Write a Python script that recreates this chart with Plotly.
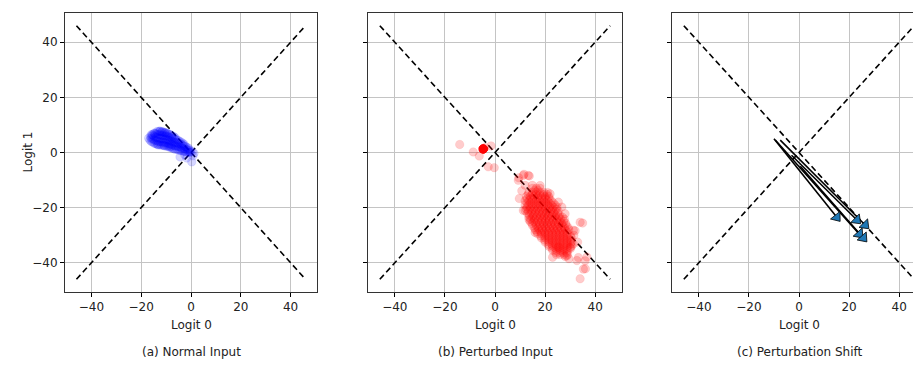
import math
import plotly.graph_objects as go

# ---------------- data ----------------
tick_vals = [-40, -20, 0, 20, 40]
tick_text = ["\u221240", "\u221220", "0", "20", "40"]

# decision boundaries (dashed diagonals)
diag_x = [-46, 46]
diag_up_y = [-46, 46]
diag_down_y = [46, -46]

# (a) normal input logits: dense band, listed column by column (logit0 -> list of logit1)
blue_cols_x = [-16, -14.8, -13.6, -12.4, -11.2, -10, -8.8, -7.6, -6.4, -5.2, -4, -2.8, -1.6, -0.4,
               -15.4, -14.2, -13, -11.8, -10.6, -9.4, -8.2, -7, -5.8, -4.6, -3.4, -2.2, -1]
blue_cols_y = [[4, 5.2, 6.4], [3.4, 4.6, 5.8, 7], [3, 4.2, 5.4, 6.6, 7.6], [2.8, 4, 5.2, 6.4, 7.6],
               [2.6, 3.8, 5, 6.2, 7.4], [2.4, 3.6, 4.8, 6, 7.2], [2, 3.2, 4.4, 5.6, 6.6],
               [1.6, 2.8, 4, 5.2, 6], [1.2, 2.4, 3.6, 4.8, 5.4], [1, 2.2, 3.4, 4.4],
               [0.6, 1.8, 3, 3.8], [0.4, 1.4, 2.4, 3], [0.2, 1, 1.8], [0, 0.8],
               [3.8, 5, 6.2], [3.2, 4.4, 5.6, 6.8], [2.8, 4, 5.2, 6.4, 7.6], [2.6, 3.8, 5, 6.2, 7.4],
               [2.4, 3.6, 4.8, 6, 7.2], [2.2, 3.4, 4.6, 5.8, 7], [1.8, 3, 4.2, 5.4, 6.4],
               [1.4, 2.6, 3.8, 5, 5.8], [1.2, 2.4, 3.6, 4.6], [0.8, 2, 3.2, 4],
               [0.6, 1.6, 2.6, 3.4], [0.4, 1.2, 2.2], [0.2, 1, 1.6]]
blue_extra_x = [-17, -16.5, -16.2, -15.5, -14.5, -12.5, -11.6, -10.6, -9.6, -0.3, 0.5, 1.2,
                -4.4, 0.3, -1.7, -2.5, 0.8, -13.3, -10.8, -9, -8.1]
blue_extra_y = [5.2, 4.5, 5.8, 6.5, 7, 7.8, 7.6, 7.2, 6.8, 0.2, 0.3, -0.3,
                -1.6, -3.4, -2, -0.8, -1.2, 2.8, 2.6, 2.5, 2.2]

# (b) perturbed input logits: dense core listed row by row (logit1 -> list of logit0)
red_rows_y = [-13, -14.5, -16, -17.5, -19, -20.5, -22, -23.5, -25, -26.5, -28, -29.5, -31, -32.5,
              -34, -35.5, -37,
              -13.75, -15.25, -16.75, -18.25, -19.75, -21.25, -22.75, -24.25, -25.75, -27.25,
              -28.75, -30.25, -31.75, -33.25, -34.75, -36.25]
red_rows_x = [[15, 16.5, 18], [13.5, 15, 16.5, 18, 19.5], [12.5, 14, 15.5, 17, 18.5, 20, 21.5],
              [12, 13.5, 15, 16.5, 18, 19.5, 21, 22.5], [12, 13.5, 15, 16.5, 18, 19.5, 21, 22.5, 24],
              [12.5, 14, 15.5, 17, 18.5, 20, 21.5, 23, 24.5], [13, 14.5, 16, 17.5, 19, 20.5, 22, 23.5, 25],
              [13.5, 15, 16.5, 18, 19.5, 21, 22.5, 24, 25.5, 27],
              [14, 15.5, 17, 18.5, 20, 21.5, 23, 24.5, 26, 27.5],
              [15, 16.5, 18, 19.5, 21, 22.5, 24, 25.5, 27, 28.5],
              [16, 17.5, 19, 20.5, 22, 23.5, 25, 26.5, 28, 29.5],
              [17, 18.5, 20, 21.5, 23, 24.5, 26, 27.5, 29],
              [18.5, 20, 21.5, 23, 24.5, 26, 27.5, 29, 30.5],
              [20, 21.5, 23, 24.5, 26, 27.5, 29, 30.5], [21.5, 23, 24.5, 26, 27.5, 29, 30.5],
              [23, 24.5, 26, 27.5, 29], [24.5, 26, 27.5, 29],
              [15.75, 17.25], [13.25, 14.75, 16.25, 17.75, 19.25, 20.75],
              [12.75, 14.25, 15.75, 17.25, 18.75, 20.25, 21.75],
              [12.75, 14.25, 15.75, 17.25, 18.75, 20.25, 21.75, 23.25],
              [12.75, 14.25, 15.75, 17.25, 18.75, 20.25, 21.75, 23.25, 24.75],
              [13.25, 14.75, 16.25, 17.75, 19.25, 20.75, 22.25, 23.75, 25.25],
              [13.75, 15.25, 16.75, 18.25, 19.75, 21.25, 22.75, 24.25, 25.75],
              [14.25, 15.75, 17.25, 18.75, 20.25, 21.75, 23.25, 24.75, 26.25, 27.75],
              [14.75, 16.25, 17.75, 19.25, 20.75, 22.25, 23.75, 25.25, 26.75, 28.25],
              [15.75, 17.25, 18.75, 20.25, 21.75, 23.25, 24.75, 26.25, 27.75, 29.25],
              [16.75, 18.25, 19.75, 21.25, 22.75, 24.25, 25.75, 27.25, 28.75],
              [18.25, 19.75, 21.25, 22.75, 24.25, 25.75, 27.25, 28.75, 30.25],
              [19.75, 21.25, 22.75, 24.25, 25.75, 27.25, 28.75, 30.25],
              [21.25, 22.75, 24.25, 25.75, 27.25, 28.75, 30.25],
              [22.75, 24.25, 25.75, 27.25, 28.75, 30.25], [24.25, 25.75, 27.25, 28.75]]
red_extra_x = [-4.7] * 20 + [-14.1, -8.7, -6.3, -1.6, -2.7, -0.3, -4,
               9.5, 11.6, 13.7, 14.9, 10.7, 9.7, 12, 13.6, 28, 35, 31.3, 33, 28, 32.7, 36.1, 34,
               36.7, 25.3, 11.3, 13.3, 9.3, 12, 22, 25.3, 26.7, 11.3, 16, 32, 34, 28.7, 33.3, 36,
               35.3, 30, 31.3, 18, 21, 31.5, 29.5, 23]
red_extra_y = [1.3] * 20 + [2.9, 0.2, -1.3, 2.4, -5.2, -5.5, 1.8,
               -9.2, -7.9, -8.5, -11.9, -13.9, -16.7, -21, -24.4, -22.2, -25.6, -28.2, -32.5,
               -37.7, -39.2, -42.2, -45.8, -37.9, -34.3, -8.3, -8.3, -10.1, -11.9, -15, -18,
               -19.8, -21, -29, -28.4, -25.3, -37.5, -38.1, -39.3, -42.3, -34.5, -33.2, -12,
               -14.5, -30, -38.5, -38]

# (c) perturbation shift arrows: start -> end
arrow_x0 = [-10, -9.5, -7.5, -3, 0.5]
arrow_y0 = [5, 4.5, 4.5, -1, -5]
arrow_x1 = [15.1, 24.1, 26.4, 23.1, 25.7]
arrow_y1 = [-23.5, -29.6, -26.3, -24.5, -31]

captions = ["(a) Normal Input", "(b) Perturbed Input", "(c) Perturbation Shift"]

# assemble point lists from the columns / rows above
blue_x, blue_y = [], []
for cx, ys in zip(blue_cols_x, blue_cols_y):
    for v in ys:
        blue_x.append(cx)
        blue_y.append(v)
blue_x += blue_extra_x
blue_y += blue_extra_y

red_x, red_y = [], []
for ry, xs in zip(red_rows_y, red_rows_x):
    for v in xs:
        red_x.append(v)
        red_y.append(ry)
red_x += red_extra_x
red_y += red_extra_y

# ---------------- layout geometry ----------------
W, H = 913, 372
FONT = "DejaVu Sans"
panel_px = [(65, 317), (368.3, 621.7), (672.3, 913)]
top_px, bot_px = 13, 292
x_ranges = [[-50.6, 50.6], [-50.6, 50.6], [-50.6, 45.5]]
y_range = [-50.6, 50.6]


def fx(px):
    return px / W


def fy(py):
    return 1 - py / H


fig = go.Figure()

dash_style = dict(color="black", width=1.6, dash="6px,3.5px")
for i in range(3):
    xa = "x" if i == 0 else f"x{i+1}"
    ya = "y" if i == 0 else f"y{i+1}"
    fig.add_trace(go.Scatter(x=diag_x, y=diag_down_y, mode="lines", line=dash_style,
                             xaxis=xa, yaxis=ya, showlegend=False, hoverinfo="skip"))
    fig.add_trace(go.Scatter(x=diag_x, y=diag_up_y, mode="lines", line=dash_style,
                             xaxis=xa, yaxis=ya, showlegend=False, hoverinfo="skip"))

fig.add_trace(go.Scatter(
    x=blue_x, y=blue_y, mode="markers", xaxis="x", yaxis="y", showlegend=False,
    marker=dict(size=8.5, color="rgba(0,0,255,0.16)",
                line=dict(color="rgba(0,0,255,0.12)", width=0.7))))
fig.add_trace(go.Scatter(
    x=red_x, y=red_y, mode="markers", xaxis="x2", yaxis="y2", showlegend=False,
    marker=dict(size=8.5, color="rgba(255,0,0,0.2)",
                line=dict(color="rgba(255,0,0,0.12)", width=0.7))))

# arrows in panel c
sx = (panel_px[2][1] - panel_px[2][0]) / (x_ranges[2][1] - x_ranges[2][0])
sy = (bot_px - top_px) / (y_range[1] - y_range[0])
angles = []
for x0, y0, x1, y1 in zip(arrow_x0, arrow_y0, arrow_x1, arrow_y1):
    dxp = (x1 - x0) * sx
    dyp = -(y1 - y0) * sy
    angles.append(math.degrees(math.atan2(dxp, -dyp)))
    fig.add_trace(go.Scatter(x=[x0, x1], y=[y0, y1], mode="lines", xaxis="x3", yaxis="y3",
                             line=dict(color="black", width=1.6), showlegend=False,
                             hoverinfo="skip"))
fig.add_trace(go.Scatter(
    x=arrow_x1, y=arrow_y1, mode="markers", xaxis="x3", yaxis="y3", showlegend=False,
    marker=dict(symbol="triangle-up", size=10.5, angle=angles, color="#1f77b4",
                line=dict(color="black", width=0.8))))

axis_common = dict(
    tickmode="array", tickvals=tick_vals, ticktext=tick_text,
    showgrid=True, gridcolor="#c4c4c4", gridwidth=1, zeroline=False,
    ticks="outside", ticklen=4, tickwidth=1, tickcolor="black",
    showline=True, linecolor="#333333", linewidth=1,
    tickfont=dict(family=FONT, size=12, color="#222222"),
)

layout = dict(
    width=W, height=H, margin=dict(l=0, r=0, t=0, b=0),
    paper_bgcolor="white", plot_bgcolor="white", showlegend=False,
)
for i in range(3):
    xk = "xaxis" if i == 0 else f"xaxis{i+1}"
    yk = "yaxis" if i == 0 else f"yaxis{i+1}"
    yname = "y" if i == 0 else f"y{i+1}"
    xname = "x" if i == 0 else f"x{i+1}"
    layout[xk] = dict(axis_common, domain=[fx(panel_px[i][0]), fx(panel_px[i][1])],
                      range=x_ranges[i], anchor=yname, mirror=True)
    layout[yk] = dict(axis_common, domain=[fy(bot_px), fy(top_px)], range=y_range,
                      anchor=xname, mirror=(i < 2), showticklabels=(i == 0))

annotations = []
annotations.append(dict(text="Logit 1", x=fx(18), y=fy((top_px + bot_px) / 2), xref="paper",
                        yref="paper", showarrow=False, textangle=-90,
                        font=dict(family=FONT, size=12, color="#222222")))
centers = [191, 495, 799]
for i in range(3):
    annotations.append(dict(text="Logit 0", x=fx(centers[i]), y=fy(325), xref="paper",
                            yref="paper", showarrow=False, xanchor="center", yanchor="middle",
                            font=dict(family=FONT, size=12, color="#222222")))
    annotations.append(dict(text=captions[i], x=fx(centers[i]), y=fy(352), xref="paper",
                            yref="paper", showarrow=False, xanchor="center", yanchor="middle",
                            font=dict(family=FONT, size=12, color="#222222")))
layout["annotations"] = annotations

fig.update_layout(**layout)
fig.write_html("out.html")
